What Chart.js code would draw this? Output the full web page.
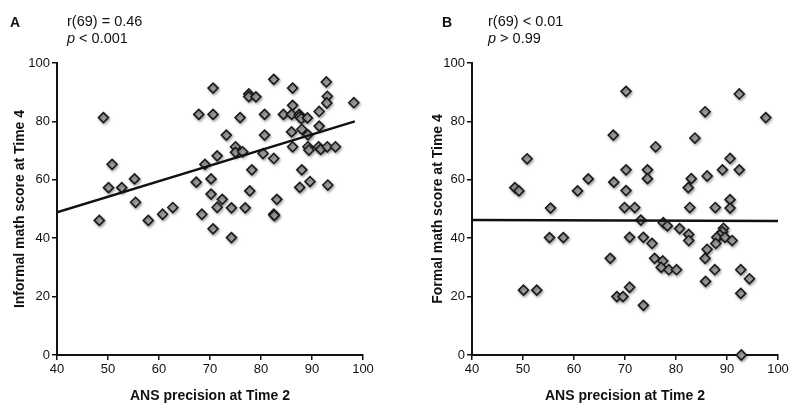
<!DOCTYPE html>
<html>
<head>
<meta charset="utf-8">
<script src="https://cdn.jsdelivr.net/npm/chart.js@4/dist/chart.umd.min.js"></script>
<style>
  body { margin: 0; background: #fff; font-family: "Liberation Sans", Arial, sans-serif; color: #111; }
  .panel { position: absolute; top: 0; width: 400px; height: 408px; }
  .panel canvas { position: absolute; left: 0; top: 0; }
  .letter { position: absolute; top: 14px; font-weight: bold; font-size: 14px; }
  .stats { position: absolute; top: 13px; font-size: 14.5px; line-height: 17px; }
</style>
</head>
<body>

<div class="panel" style="left:0">
  <canvas id="chartA" width="400" height="408"></canvas>
  <div class="letter" style="left:10px">A</div>
  <div class="stats" style="left:67px">r(69) = 0.46<br><i>p</i> &lt; 0.001</div>
</div>
<div class="panel" style="left:400px">
  <canvas id="chartB" width="400" height="408"></canvas>
  <div class="letter" style="left:42px">B</div>
  <div class="stats" style="left:88px">r(69) &lt; 0.01<br><i>p</i> &gt; 0.99</div>
</div>

<script>
// valeurs
const xTicks = [40, 50, 60, 70, 80, 90, 100]
const yTicks = [0, 20, 40, 60, 80, 100]

// A : score informel
const informalX = [49.1, 50.8, 50.1, 52.7, 55.2, 55.4, 67.8, 69.0, 67.3, 62.7,
  48.3, 57.9, 60.7, 68.4, 70.6, 70.6, 82.5, 92.8, 86.2, 77.6,
  77.6, 79.0, 93.0, 92.9, 98.2, 86.2, 91.4, 70.6, 75.9, 80.7,
  84.4, 86.0, 87.5, 87.6, 87.9, 89.1, 73.2, 80.7, 91.4, 86.0,
  88.0, 89.2, 75.0, 75.0, 76.4, 71.4, 80.4, 82.5, 86.2, 89.2,
  89.4, 91.3, 91.7, 93.0, 94.6, 78.2, 88.0, 70.2, 89.6, 87.6,
  93.1, 70.2, 77.8, 72.4, 83.1, 71.4, 74.2, 76.9, 82.5, 74.2, 82.6]
const informalY = [81.3, 65.3, 57.3, 57.3, 60.3, 52.3, 82.4, 65.3, 59.2, 50.5,
  46.1, 46.1, 48.2, 48.2, 43.2, 91.4, 94.4, 93.5, 91.4, 89.4,
  88.5, 88.4, 88.6, 86.3, 86.4, 85.5, 83.4, 82.4, 81.3, 82.4,
  82.4, 82.4, 82.4, 81.6, 81.0, 81.2, 75.3, 75.3, 78.4, 76.4,
  77.3, 75.4, 71.3, 69.4, 69.6, 68.2, 69.0, 67.3, 71.3, 71.3,
  70.2, 71.3, 70.4, 71.3, 71.3, 63.4, 63.4, 60.3, 59.4, 57.4,
  58.2, 55.1, 56.2, 53.3, 53.3, 50.6, 50.4, 50.4, 48.2, 40.2, 47.8]
const fitAX = [40, 98.4]
const fitAY = [48.9, 80.0]

// B : score formel
const formalX = [50.8, 48.4, 49.2, 60.7, 62.8, 55.4, 55.2, 57.9, 50.1, 52.7,
  67.1, 70.2, 92.4, 85.7, 97.6, 67.7, 83.7, 76.0, 90.6, 70.2,
  74.4, 74.4, 89.1, 92.4, 67.8, 83.0, 86.1, 82.4, 70.2, 90.6,
  69.9, 71.9, 82.7, 87.7, 90.6, 73.1, 77.5, 78.3, 80.7, 82.5,
  82.5, 89.3, 89.1, 88.6, 88.0, 89.6, 87.8, 86.1, 85.7, 91.0,
  70.9, 73.6, 75.3, 75.8, 77.4, 77.1, 78.6, 80.1, 87.6, 92.7,
  94.4, 85.8, 70.9, 68.4, 69.6, 92.7, 73.6, 92.8]
const formalY = [67.2, 57.3, 56.2, 56.2, 60.3, 50.3, 40.2, 40.2, 22.2, 22.2,
  33.1, 90.3, 89.4, 83.3, 81.3, 75.3, 74.3, 71.3, 67.3, 63.4,
  63.4, 60.4, 63.4, 63.4, 59.2, 60.4, 61.3, 57.3, 56.3, 53.2,
  50.5, 50.5, 50.5, 50.5, 50.3, 46.2, 45.3, 44.2, 43.3, 41.3,
  39.2, 43.4, 42.2, 41.1, 40.3, 40.3, 38.2, 36.2, 33.1, 39.2,
  40.3, 40.3, 38.2, 33.1, 32.2, 30.0, 29.2, 29.2, 29.2, 29.2,
  26.1, 25.2, 23.2, 20.0, 20.0, 21.1, 17.0, 0]
const fitBX = [40, 100]
const fitBY = [46.2, 45.9]

const pts = (xs, ys) => xs.map((x, i) => ({ x: x, y: ys[i] }))

// ombre sous les losanges
const shadow = {
  id: 'shadow',
  beforeDatasetDraw (chart, args) {
    if (args.meta.type !== 'scatter') return
    const ctx = chart.ctx
    ctx.save()
    ctx.shadowColor = 'rgba(0,0,0,0.35)'
    ctx.shadowBlur = 3
    ctx.shadowOffsetX = 1
    ctx.shadowOffsetY = 1.5
  },
  afterDatasetDraw (chart, args) {
    if (args.meta.type !== 'scatter') return
    chart.ctx.restore()
  }
}

function makeChart (id, xs, ys, fx, fy, yTitle, axisLeft, titlePad) {
  return new Chart(document.getElementById(id), {
    type: 'scatter',
    data: {
      datasets: [
        {
          type: 'line',
          data: pts(fx, fy),
          borderColor: '#111',
          borderWidth: 2.5,
          pointRadius: 0,
          order: 0
        },
        {
          data: pts(xs, ys),
          pointStyle: 'rectRot',
          pointRadius: 5,
          backgroundColor: '#a3a3a3',
          borderColor: '#1a1a1a',
          borderWidth: 1.6,
          clip: false,
          order: 1
        }
      ]
    },
    options: {
      responsive: false,
      animation: false,
      events: [],
      layout: { padding: { left: 0, right: 400 - axisLeft - 306, top: 63, bottom: 0 } },
      plugins: { legend: { display: false }, tooltip: { enabled: false } },
      scales: {
        x: {
          type: 'linear',
          min: 40,
          max: 100,
          afterBuildTicks: s => { s.ticks = xTicks.map(v => ({ value: v })) },
          afterFit: s => { s.height = 53 },
          grid: { drawOnChartArea: false, drawTicks: true, tickLength: 5, color: '#111', lineWidth: 1.5 },
          border: { display: true, color: '#111', width: 2 },
          ticks: { color: '#111', padding: 2, maxRotation: 0, font: { family: 'Liberation Sans', size: 13 } },
          title: {
            display: true,
            text: 'ANS precision at Time 2',
            color: '#111',
            padding: { top: 0, bottom: 3 },
            font: { family: 'Liberation Sans', size: 14, weight: 'bold' }
          }
        },
        y: {
          type: 'linear',
          min: 0,
          max: 100,
          afterBuildTicks: s => { s.ticks = yTicks.map(v => ({ value: v })) },
          afterFit: s => { s.width = axisLeft },
          grid: { drawOnChartArea: false, drawTicks: true, tickLength: 5, color: '#111', lineWidth: 1.5 },
          border: { display: true, color: '#111', width: 2 },
          ticks: { color: '#111', padding: 2, font: { family: 'Liberation Sans', size: 13 } },
          title: {
            display: true,
            text: yTitle,
            color: '#111',
            padding: { top: titlePad, bottom: 0 },
            font: { family: 'Liberation Sans', size: 14, weight: 'bold' }
          }
        }
      }
    },
    plugins: [shadow]
  })
}

makeChart('chartA', informalX, informalY, fitAX, fitAY, 'Informal math score at Time 4', 57, 12)
makeChart('chartB', formalX, formalY, fitBX, fitBY, 'Formal math score at Time 4', 72, 30)
</script>
</body>
</html>
